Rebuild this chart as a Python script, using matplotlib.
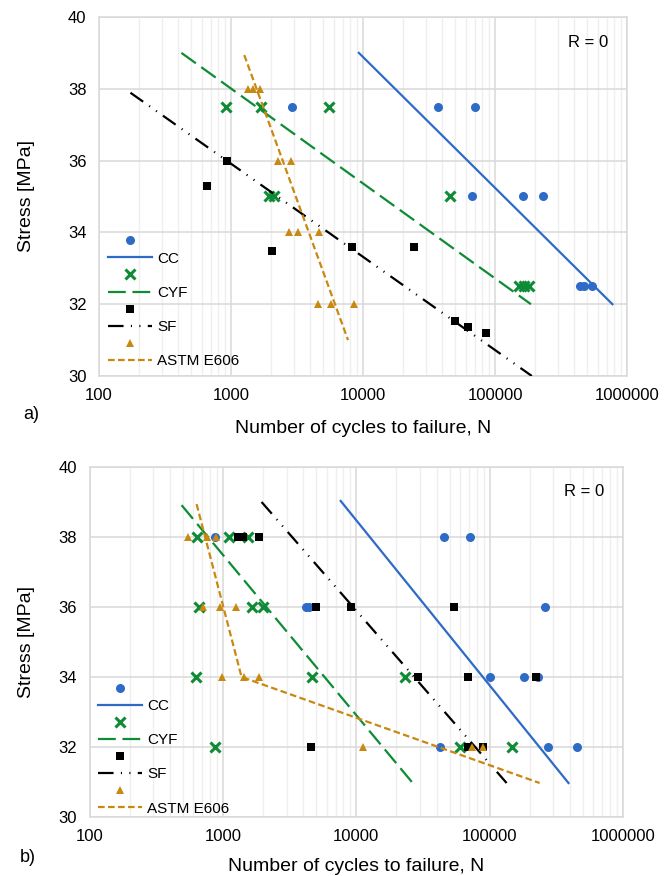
import matplotlib
matplotlib.use("Agg")
import matplotlib.pyplot as plt
from matplotlib.lines import Line2D
from matplotlib.ticker import LogLocator, FixedLocator, NullFormatter

plt.rcParams["font.family"] = ["Liberation Sans", "DejaVu Sans"]

# ---- panel a) ----
cc_a_n = [2900, 36800, 70100, 66500, 162000, 229000, 444000, 468000, 547000]
cc_a_s = [37.5, 37.5, 37.5, 35, 35, 35, 32.5, 32.5, 32.5]
cc_a_fit_n = [9300, 775000]
cc_a_fit_s = [39, 32]

cyf_a_n = [920, 1690, 5550, 1950, 2100, 45400, 151000, 165000, 180000]
cyf_a_s = [37.5, 37.5, 37.5, 35, 35, 35, 32.5, 32.5, 32.5]
cyf_a_fit_n = [421, 187000]
cyf_a_fit_s = [39, 32]

sf_a_n = [937, 660, 2040, 8300, 24200, 50000, 61900, 85000]
sf_a_s = [36, 35.3, 33.47, 33.6, 33.6, 31.53, 31.36, 31.19]
sf_a_fit_n = [173, 190000]
sf_a_fit_s = [37.89, 30]

astm_a_n = [1350, 1475, 1670, 2280, 2850, 2750, 3220, 4640, 4560, 5720, 8540]
astm_a_s = [38, 38, 38, 36, 36, 34, 34, 34, 32, 32, 32]
astm_a_fit_n = [1260, 7700]
astm_a_fit_s = [38.94, 31]

# ---- panel b) ----
cc_b_n = [870, 45200, 71000, 4200, 4450, 258000, 100000, 182000, 229000, 42600, 273000, 455000]
cc_b_s = [38, 38, 38, 36, 36, 36, 34, 34, 34, 32, 32, 32]
cc_b_fit_n = [7640, 390000]
cc_b_fit_s = [39.03, 30.97]

cyf_b_n = [635, 1120, 1530, 660, 1640, 1990, 630, 4620, 23000, 870, 60000, 147000]
cyf_b_s = [38, 38, 38, 36, 36, 36, 34, 34, 34, 32, 32, 32]
cyf_b_fit_n = [490, 26500]
cyf_b_fit_s = [38.91, 30.97]

sf_b_n = [1290, 1410, 1860, 5000, 9200, 54000, 29000, 68400, 221000, 4600, 68400, 88500]
sf_b_s = [38, 38, 38, 36, 36, 36, 34, 34, 34, 32, 32, 32]
sf_b_fit_n = [1950, 134000]
sf_b_fit_s = [39, 30.97]

astm_b_n = [550, 760, 890, 705, 945, 1260, 986, 1450, 1860, 11300, 74000, 88500]
astm_b_s = [38, 38, 38, 36, 36, 36, 34, 34, 34, 32, 32, 32]
astm_b_fit_n = [635, 1380, 237000]
astm_b_fit_s = [38.94, 34, 30.97]

BLUE = "#2E6BC6"
GREEN = "#0E8C35"
BLACK = "#000000"
ORANGE = "#C9880F"

STYLES = {
    "CC": dict(color=BLUE, marker="o", ms=6.5, mew=0, ls="-", dashes=None),
    "CYF": dict(color=GREEN, marker="x", ms=6.8, mew=2.2, ls="--", dashes=(8, 3)),
    "SF": dict(color=BLACK, marker="s", ms=6, mew=0, ls="--", dashes=(7, 3.3, 0.5, 3.3, 0.5, 3.3)),
    "ASTM E606": dict(color=ORANGE, marker="^", ms=6, mew=0, ls="--", dashes=(3, 1.5)),
}


def style_axes(ax):
    ax.set_xscale("log")
    ax.set_xlim(100, 1000000)
    ax.set_ylim(30, 40)
    ax.xaxis.set_major_locator(FixedLocator([100, 1000, 10000, 100000, 1000000]))
    ax.set_xticklabels(["100", "1000", "10000", "100000", "1000000"])
    ax.xaxis.set_minor_locator(LogLocator(base=10, subs=range(2, 10), numticks=20))
    ax.xaxis.set_minor_formatter(NullFormatter())
    ax.set_yticks([30, 32, 34, 36, 38, 40])
    ax.grid(True, which="major", color="#d9d9d9", lw=1.1, zorder=0)
    ax.grid(True, which="minor", axis="x", color="#efefef", lw=1.0, zorder=0)
    ax.set_axisbelow(True)
    for sp in ax.spines.values():
        sp.set_color("#d9d9d9")
        sp.set_linewidth(1.1)
    ax.tick_params(which="both", length=0, labelsize=12, pad=9)
    ax.set_xlabel("Number of cycles to failure, N", fontsize=14)
    ax.set_ylabel("Stress [MPa]", fontsize=14)
    ax.text(0.965, 0.93, "R = 0", transform=ax.transAxes, ha="right",
            va="center", fontsize=12)


def draw_series(ax, name, n, s, fit_n, fit_s):
    st = STYLES[name]
    ax.plot(n, s, ls="none", marker=st["marker"], ms=st["ms"], mew=st["mew"],
            color=st["color"], mec=st["color"], zorder=3)
    line, = ax.plot(fit_n, fit_s, color=st["color"], lw=1.6, ls=st["ls"], zorder=3)
    if st["dashes"] is not None:
        line.set_dashes(st["dashes"])


def add_legend(ax, anchor):
    handles, labels = [], []
    for name, st in STYLES.items():
        handles.append(Line2D([], [], ls="none", marker=st["marker"], ms=st["ms"],
                              mew=st["mew"], color=st["color"], mec=st["color"]))
        labels.append("")
        ln = Line2D([], [], color=st["color"], lw=1.6, ls=st["ls"])
        if st["dashes"] is not None:
            ln.set_dashes(st["dashes"])
        handles.append(ln)
        labels.append(name)
    ax.legend(handles, labels, loc="lower left", bbox_to_anchor=anchor,
              frameon=False, fontsize=11, handlelength=2.9, handletextpad=0.3,
              labelspacing=0.2, borderpad=0, borderaxespad=0)


fig = plt.figure(figsize=(6.65, 8.76), dpi=100)
ax1 = fig.add_axes([0.1489, 0.5708, 0.794, 0.4098])
ax2 = fig.add_axes([0.1346, 0.0674, 0.8023, 0.3995])

style_axes(ax1)
draw_series(ax1, "CC", cc_a_n, cc_a_s, cc_a_fit_n, cc_a_fit_s)
draw_series(ax1, "CYF", cyf_a_n, cyf_a_s, cyf_a_fit_n, cyf_a_fit_s)
draw_series(ax1, "SF", sf_a_n, sf_a_s, sf_a_fit_n, sf_a_fit_s)
draw_series(ax1, "ASTM E606", astm_a_n, astm_a_s, astm_a_fit_n, astm_a_fit_s)
ax1.xaxis.set_label_coords(0.5, -0.122)
ax1.yaxis.set_label_coords(-0.121, 0.5)
add_legend(ax1, (0.017, 0.022))

style_axes(ax2)
draw_series(ax2, "CC", cc_b_n, cc_b_s, cc_b_fit_n, cc_b_fit_s)
draw_series(ax2, "CYF", cyf_b_n, cyf_b_s, cyf_b_fit_n, cyf_b_fit_s)
draw_series(ax2, "SF", sf_b_n, sf_b_s, sf_b_fit_n, sf_b_fit_s)
draw_series(ax2, "ASTM E606", astm_b_n, astm_b_s, astm_b_fit_n, astm_b_fit_s)
ax2.xaxis.set_label_coords(0.5, -0.118)
ax2.yaxis.set_label_coords(-0.102, 0.5)
add_legend(ax2, (0.016, 0.004))

fig.text(23 / 665, 1 - 415 / 876, "a)", fontsize=13, va="center", ha="left")
fig.text(20 / 665, 1 - 858 / 876, "b)", fontsize=13, va="center", ha="left")

fig.savefig("out.png", dpi=100)
